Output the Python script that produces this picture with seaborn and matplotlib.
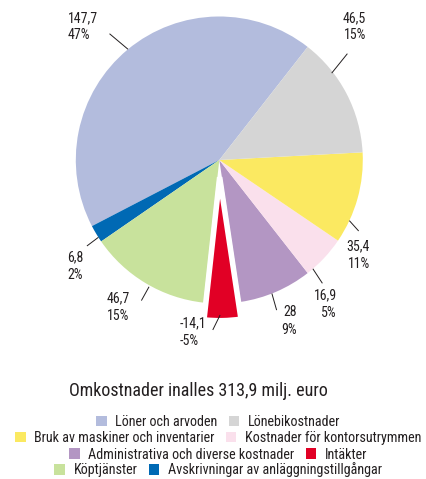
import matplotlib
matplotlib.use("Agg")
import matplotlib.pyplot as plt
from matplotlib.patches import Patch
import numpy as np
import seaborn as sns

# data (milj. euro), in drawing order counterclockwise from the top right
categories = [
    "Löner och arvoden",
    "Avskrivningar av anläggningstillgångar",
    "Köptjänster",
    "Intäkter",
    "Administrativa och diverse kostnader",
    "Kostnader för kontorsutrymmen",
    "Bruk av maskiner och inventarier",
    "Lönebikostnader",
]
values = [147.7, 6.8, 46.7, -14.1, 28.0, 16.9, 35.4, 46.5]
percent_labels = ["47%", "2%", "15%", "-5%", "9%", "5%", "11%", "15%"]
colors = ["#b3bcdd", "#0069b4", "#c8e29c", "#e10025",
          "#b396c3", "#fae0ec", "#fbe961", "#d5d5d5"]
title = "Omkostnader inalles 313,9 milj. euro"

# legend rows (indices into categories)
legend_rows = [[0, 7], [6, 5], [4, 3], [2, 1]]

# label layout: text anchor (x, y), alignment, leader (angle0, r0, angle1, r1)
label_pos = [(-1.054, 0.930), (-1.061, -0.739), (-0.783, -1.024), (-0.274, -1.199),
             (0.541, -1.122), (0.820, -1.003), (1.050, -0.662), (1.022, 0.930)]
label_ha = ["left", "left", "left", "left", "right", "right", "right", "right"]
leaders = [(129.5, 1.0, 131, 1.166), (212.6, 1.0, 213, 1.10), (241, 1.01, 241, 1.12),
           (270.3, 1.08, 267.8, 1.185), (291.5, 1.0, 290.9, 1.12), (310.7, 1.0, 309.9, 1.12),
           (335, 1.0, 333, 1.09), (37.7, 0.99, 39.7, 1.16)]

sns.set_style("white")
plt.rcParams["font.family"] = ["Roboto Condensed", "DejaVu Sans"]
text_color = "#231f20"

W, H = 427, 479
cx, cy, R = 219.3, 160, 143.5  # pie centre and radius in pixels

fig = plt.figure(figsize=(W / 100, H / 100), dpi=100)
ax = fig.add_axes([0, 0, 1, 1])

sizes = np.abs(values)
explode = [0.12 if v < 0 else 0 for v in values]
wedges, _ = ax.pie(sizes, colors=colors, startangle=52, counterclock=True,
                   explode=explode, wedgeprops=dict(linewidth=0))
for w, v in zip(wedges, values):
    if v < 0:
        w.set_edgecolor("white")
        w.set_linewidth(4)
        w.set_zorder(3)

ax.set_xlim(-cx / R, (W - cx) / R)
ax.set_ylim(-(H - cy) / R, cy / R)
ax.set_aspect("auto")
ax.axis("off")


def fmt(v):
    return f"{v:g}".replace(".", ",")


for i, v in enumerate(values):
    x, y = label_pos[i]
    ax.text(x, y, f"{fmt(v)}\n{percent_labels[i]}", ha=label_ha[i], va="center",
            fontsize=10, color=text_color, linespacing=1.3)
    a0, r0, a1, r1 = leaders[i]
    a0, a1 = np.deg2rad(a0), np.deg2rad(a1)
    ax.plot([r0 * np.cos(a0), r1 * np.cos(a1)], [r0 * np.sin(a0), r1 * np.sin(a1)],
            color=text_color, lw=0.7, solid_capstyle="butt", zorder=5)

fig.text(0.465, 0.184, title, ha="center", va="center", fontsize=13, color=text_color)

row_y = [0.119, 0.0856, 0.0509, 0.0188]
for row, y in zip(legend_rows, row_y):
    handles = [Patch(facecolor=colors[j], edgecolor="none") for j in row]
    labels = [categories[j] for j in row]
    fig.legend(handles, labels, ncol=2, loc="center", bbox_to_anchor=(0.511, y),
               frameon=False, fontsize=10.2, handlelength=0.75, handleheight=0.75,
               handletextpad=0.6, columnspacing=0.8, borderpad=0, borderaxespad=0,
               labelcolor=text_color)

fig.savefig("out.png", dpi=100)
